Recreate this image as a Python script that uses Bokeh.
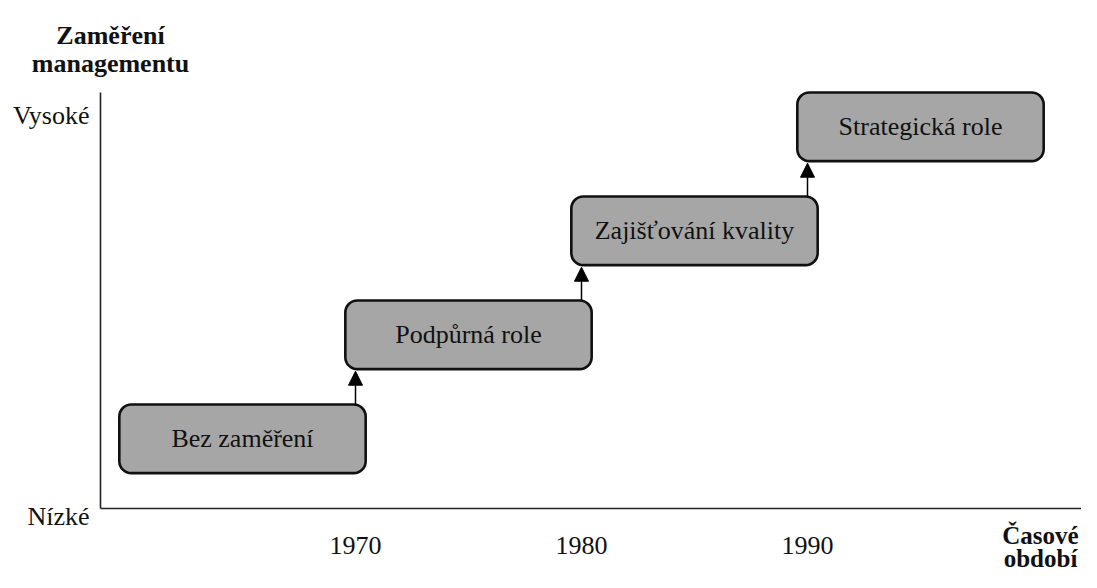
from bokeh.plotting import figure
from bokeh.models import ColumnDataSource, Range1d, Arrow, NormalHead
from bokeh.core.properties import value
from bokeh.embed import file_html
from bokeh.resources import INLINE

# ---- data ----
stages = ["Bez zaměření", "Podpůrná role", "Zajišťování kvality", "Strategická role"]
start_years = [1960, 1970, 1980, 1990]
levels = [1, 2, 3, 4]
decade_ticks = [1970, 1980, 1990]
decade_labels = ["1970", "1980", "1990"]
focus_labels = ["Nízké", "Vysoké"]
focus_levels = [0, 4]
y_title = ["Zaměření", "managementu"]
x_title = ["Časové", "období"]

FONT = value("Liberation Serif")
FS = "26px"

# pixel-like scale
PX_X = 22.6
PX_Y = 104.0
W, H = 1081, 572
OX, OY = 355, 508          # canvas position of (1970, level 0)
x0, x1 = 1970 - OX / PX_X, 1970 + (W - OX) / PX_X
y0, y1 = -(H - OY) / PX_Y, OY / PX_Y


def xd(px):
    return 1970 + (px - OX) / PX_X


def yd(py):
    return (OY - py) / PX_Y


p = figure(width=W, height=H, output_backend="svg", toolbar_location=None,
           x_range=Range1d(x0, x1), y_range=Range1d(y0, y1), min_border=0)
p.title = None
p.axis.visible = False
p.grid.visible = False
p.outline_line_color = None
p.background_fill_color = "white"
p.border_fill_color = "white"

axis_x = xd(100)

# axes lines
p.segment(x0=[axis_x, axis_x], y0=[focus_levels[0], focus_levels[0]],
          x1=[axis_x, x1], y1=[focus_levels[1], focus_levels[0]],
          line_color="#222222", line_width=1.6)

# boxes
box_h = 0.66
src = ColumnDataSource(dict(
    left=[s - 0.45 for s in start_years],
    right=[s + 10.45 for s in start_years],
    top=[l for l in levels],
    bottom=[l - box_h for l in levels],
    cx=[s + 5.0 for s in start_years],
    cy=[l - box_h / 2 for l in levels],
    label=stages,
))
p.quad(left="left", right="right", top="top", bottom="bottom", source=src,
       fill_color="#a6a6a6", line_color="#111111", line_width=2.6, border_radius=12)
p.text(x="cx", y="cy", text="label", source=src, text_font=FONT, text_font_size=FS,
       text_align="center", text_baseline="middle", text_color="#111111")

# arrows between stages
for i in range(1, len(levels)):
    p.add_layout(Arrow(end=NormalHead(size=14, fill_color="black", line_color="black"),
                       x_start=start_years[i], y_start=levels[i - 1],
                       x_end=start_years[i], y_end=levels[i] - box_h - 0.02,
                       line_color="black", line_width=1.5))

# year labels
p.text(x=decade_ticks, y=[yd(OY + 37)] * 3, text=decade_labels, text_font=FONT,
       text_font_size=FS, text_align="center", text_baseline="alphabetic",
       text_color="#111111")

# focus level labels
lab_x = xd(89)
p.text(x=[lab_x, lab_x], y=[yd(OY + 8), yd(115)], text=focus_labels,
       text_font=FONT, text_font_size=FS, text_align="right",
       text_baseline="alphabetic", text_color="#111111")

# y title (bold, top-left)
tx = xd(110)
p.text(x=[tx, tx], y=[yd(35), yd(63)], text=y_title, text_font=FONT,
       text_font_size=FS, text_font_style="bold", text_align="center",
       text_baseline="alphabetic", text_color="#111111")

# x title (bold, bottom-right)
bx = xd(1040)
p.text(x=[bx, bx], y=[yd(OY + 27), yd(OY + 50)], text=x_title, text_font=FONT,
       text_font_size="25px", text_font_style="bold", text_align="center",
       text_baseline="alphabetic", text_color="#111111")

open("out.html", "w").write(file_html(p, INLINE))
